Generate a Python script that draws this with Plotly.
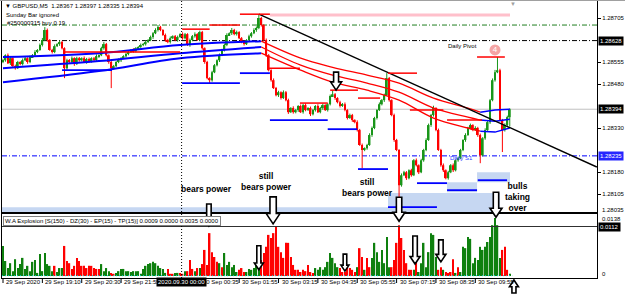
import plotly.graph_objects as go

# ---------------- data ----------------
BASE = 1.28
PT = 0.00001

time_labels = ["29 Sep 2020", "29 Sep 19:10", "29 Sep 20:30", "29 Sep 21:55", "30 Sep 00:35",
               "30 Sep 01:55", "30 Sep 03:15", "30 Sep 04:35", "30 Sep 05:55", "30 Sep 07:15",
               "30 Sep 08:35", "30 Sep 09:55"]
time_label_bars = [0, 16, 32, 48, 80, 96, 112, 128, 144, 160, 176, 192]
separator_bar = 72.6
separator_label = "2020.09.30 00:00"

# M5 candles, closes in points above 1.28000
close_pts = [
    561, 578, 551, 568, 541, 534, 555, 548, 561, 568,
    555, 572, 578, 589, 596, 613, 630, 664, 630, 596,
    589, 609, 616, 623, 602, 534, 561, 555, 568, 548,
    568, 561, 568, 555, 565, 558, 568, 561, 575, 578,
    602, 616, 578, 555, 534, 541, 555, 561, 568, 575,
    582, 589, 596, 592, 602, 606, 613, 616, 623, 630,
    640, 653, 664, 674, 664, 647, 630, 623, 636, 643,
    630, 640, 650, 636, 650, 613, 630, 643, 650, 630,
    657, 602, 555, 500, 493, 520, 544, 561, 578, 596,
    613, 647, 653, 664, 650, 657, 636, 623, 616, 630,
    643, 653, 664, 671, 705, 681, 630, 578, 527, 493,
    466, 442, 452, 432, 452, 425, 384, 398, 384, 391,
    405, 384, 408, 391, 398, 377, 391, 405, 384, 398,
    408, 391, 411, 439, 445, 432, 418, 405, 411, 391,
    364, 374, 357, 350, 323, 272, 255, 261, 272, 306,
    330, 364, 391, 411, 425, 442, 500, 425, 374, 289,
    255, 135, 169, 179, 159, 186, 169, 220, 203, 179,
    220, 255, 289, 340, 374, 398, 323, 255, 203, 186,
    159, 179, 203, 186, 220, 227, 255, 289, 306, 330,
    340, 323, 330, 306, 237, 295, 323, 350, 425, 493,
    520, 527, 357, 323, 340, 367, 394,
]
first_open_pts = 555
up_wick_pts = [
    5, 3, 6, 4, 3, 5, 4, 3, 6, 4, 3, 5, 4, 6, 3, 5, 7, 10, 5, 3,
    4, 6, 3, 5, 4, 3, 5, 4, 6, 3, 5, 4, 3, 6, 4, 5, 3, 4, 6, 3,
    5, 7, 4, 3, 5, 4, 3, 6, 4, 3, 5, 4, 3, 6, 4, 3, 5, 4, 6, 3,
    5, 4, 6, 7, 4, 3, 5, 4, 6, 3, 4, 5, 3, 6, 4, 3, 5, 4, 6, 3,
    5, 4, 3, 4, 3, 5, 4, 3, 6, 4, 5, 6, 3, 7, 4, 5, 3, 4, 6, 3,
    5, 4, 6, 5, 13, 4, 3, 5, 4, 3, 6, 4, 5, 3, 6, 4, 5, 3, 6, 4,
    3, 5, 4, 6, 3, 5, 4, 3, 6, 4, 5, 3, 4, 5, 14, 4, 3, 5, 4, 6,
    3, 5, 4, 3, 6, 4, 5, 3, 4, 6, 5, 4, 3, 6, 4, 5, 17, 4, 3, 5,
    4, 3, 6, 5, 4, 3, 5, 4, 6, 3, 5, 4, 6, 5, 4, 8, 3, 5, 4, 6,
    3, 5, 4, 6, 3, 5, 4, 3, 6, 4, 5, 3, 6, 4, 5, 4, 6, 5, 4, 6,
    8, 45, 5, 4, 6, 5, 3,
]
dn_wick_pts = [
    4, 5, 3, 6, 4, 5, 3, 4, 5, 3, 6, 4, 3, 5, 4, 3, 5, 4, 6, 3,
    5, 4, 3, 6, 4, 34, 5, 3, 4, 6, 3, 5, 4, 3, 6, 4, 5, 3, 4, 6,
    3, 5, 4, 6, 68, 5, 3, 4, 6, 3, 5, 4, 3, 5, 4, 6, 3, 4, 5, 3,
    4, 6, 3, 5, 4, 3, 6, 4, 5, 3, 4, 6, 3, 5, 4, 3, 6, 4, 5, 3,
    4, 5, 6, 4, 13, 5, 3, 4, 6, 3, 5, 4, 3, 6, 4, 5, 3, 4, 5, 3,
    4, 5, 3, 6, 4, 5, 3, 6, 4, 5, 3, 4, 6, 5, 3, 4, 6, 3, 5, 4,
    6, 3, 5, 4, 3, 6, 4, 5, 3, 4, 6, 3, 5, 4, 3, 6, 4, 5, 3, 4,
    5, 3, 6, 4, 5, 3, 62, 4, 5, 3, 6, 4, 5, 3, 4, 6, 3, 5, 4, 6,
    4, 51, 5, 3, 6, 4, 5, 3, 4, 6, 3, 5, 4, 3, 6, 5, 4, 3, 5, 6,
    4, 5, 3, 6, 4, 5, 3, 4, 6, 3, 5, 4, 3, 6, 27, 4, 5, 3, 6, 4,
    5, 3, 4, 75, 5, 4, 32,
]

# W.A Explosion histogram, values x 1e-4, colour by direction
wa_values = [
    68, 34, 18, 29, 11, 38, 18, 27, 41, 16,
    23, 11, 32, 36, 7, 50, 11, 52, 27, 23,
    11, 23, 9, 18, 18, 68, 34, 29, 16, 23,
    41, 34, 23, 23, 18, 23, 23, 18, 16, 16,
    27, 11, 18, 11, 7, 5, 7, 11, 16, 16,
    11, 11, 9, 11, 11, 11, 5, 16, 23, 27,
    29, 32, 29, 23, 18, 16, 7, 16, 5, 5,
    7, 7, 7, 5, 11, 11, 36, 16, 11, 18,
    18, 27, 59, 25, 97, 54, 43, 32, 29, 20,
    52, 25, 32, 20, 25, 9, 14, 18, 9, 9,
    16, 14, 18, 25, 36, 36, 52, 66, 93, 86,
    97, 111, 66, 54, 41, 75, 75, 43, 25, 14,
    14, 9, 14, 11, 25, 9, 7, 18, 14, 20,
    14, 20, 32, 52, 41, 29, 20, 18, 9, 9,
    20, 18, 14, 9, 20, 63, 43, 14, 41, 20,
    41, 75, 54, 32, 59, 29, 88, 20, 20, 36,
    75, 115, 86, 59, 29, 14, 14, 14, 32, 9,
    29, 75, 20, 54, 97, 93, 43, 14, 20, 14,
    9, 7, 9, 38, 7, 20, 9, 66, 63, 88,
    84, 29, 41, 36, 66, 59, 66, 77, 88, 115,
    131, 115, 41, 59, 66, 14, 5,
]
wa_dir = ("GGGGGGGGGG" "GGGGGGGGGG" "GRGGGRRRRR" "RRRRRRRRRR" "GGGGRRGGGG"
          "GGGGGGGGGG" "GGGGGGGRRR" "GGRRGRRRGR" "GRRRRRRRGR" "GGGGGGRRRG"
          "GGGGGRRRRR" "RRRRRRRRRR" "RRRRRRRGGG" "GGGGGGGRRR" "RRRRGRRGRR"
          "GGGGGGGGRR" "RRRRRRRGRG" "GGGGGGGRRG" "RRRRGRGGGG" "GGGGGGGGGG"
          "GGGRRRG")
wa_level = 0.0112

# moving-average bands (bar index, points)
ma_left_bars = [0, 39, 72, 105]
ma_left_top = [572, 585, 613, 626]
ma_left_mid = [534, 558, 585, 606]
ma_left_bot = [486, 524, 568, 585]
ma_red_bars = [105, 121, 134, 148, 161, 175, 189, 194]
ma_red_top = [626, 568, 537, 510, 483, 432, 398, 384]
ma_red_mid = [606, 544, 510, 483, 452, 398, 367, 357]
ma_red_bot = [585, 527, 486, 459, 425, 364, 330, 319]
ma_right_bars = [194, 200, 206]
ma_right_top = [384, 391, 394]
ma_right_mid = [357, 353, 360]
ma_right_bot = [319, 316, 330]

# trend line (bar, points)
trend_bars = [104, 241.4]
trend_pts = [718, 197]

# supply / demand segments (bar from, bar to, points)
res_segments = [(96.3, 108.5, 718), (84, 96.3, 681), (72.8, 84, 667), (24.4, 72, 589),
                (107.7, 120.7, 534), (120.7, 132, 415), (133, 144.3, 459), (144.3, 153.3, 432),
                (156.5, 168.3, 517), (165.4, 179, 391), (180.5, 194.7, 357), (192.7, 204, 572)]
sup_segments = [(24, 44.3, 527), (72.8, 96.3, 483), (96.3, 108.5, 517), (108.5, 132, 357),
                (132, 144, 326), (144.3, 156.5, 190), (156.5, 176.4, 60), (168.3, 180.5, 142),
                (180.5, 192.7, 118), (193, 204.9, 152)]
zones = [(-0.4, 161.4, 40, 60), (156.5, 202, 40, 108), (180.5, 192.7, 111, 145), (192.7, 206.1, 145, 179)]
pink_line = (108.5, 206.1, 715)

levels = {"r": 1.28681, "pivot": 1.28628, "bid": 1.28394, "s1": 1.28235}
price_ticks = [1.28705, 1.28555, 1.28480, 1.28330, 1.28180, 1.28105]

# ---------------- geometry ----------------
W, H = 625, 294
X0, X1 = 2, 597
XMIN, XMAX = -0.4065, 241.46
MT, MB = 1, 213
IT, IB = 213, 278
P_TOP, P_BOT = 1.2876295, 1.2804023
V_TOP, V_BOT = 0.014253, -0.000452
FONT = "Liberation Sans"


def px_x(b):
    return X0 + (b - XMIN) / (XMAX - XMIN) * (X1 - X0)


def py_main(p):
    return MT + (P_TOP - p) / (P_TOP - P_BOT) * (MB - MT)


def py_ind(v):
    return IT + (V_TOP - v) / (V_TOP - V_BOT) * (IB - IT)


def P(pts):
    return BASE + pts * PT


n = len(close_pts)
idx = list(range(n))
opens = [first_open_pts] + close_pts[:-1]
GREEN, RED = "#1a961a", "#ff0000"

fig = go.Figure()

# candle bodies
bases, heights, ccol = [], [], []
for o, c in zip(opens, close_pts):
    bases.append(P(min(o, c)))
    heights.append(abs(c - o) * PT)
    ccol.append(GREEN if c >= o else RED)

# wicks
wx = {GREEN: [], RED: []}
wy = {GREEN: [], RED: []}
for i, (o, c, u, d) in enumerate(zip(opens, close_pts, up_wick_pts, dn_wick_pts)):
    col = GREEN if c >= o else RED
    wx[col] += [i, i, None]
    wy[col] += [P(min(o, c) - d), P(max(o, c) + u), None]
for col in (GREEN, RED):
    fig.add_trace(go.Scatter(x=wx[col], y=wy[col], mode="lines", line=dict(color=col, width=1),
                             hoverinfo="skip", xaxis="x", yaxis="y"))
fig.add_trace(go.Bar(x=idx, y=heights, base=bases, width=0.72,
                     marker=dict(color=ccol, line=dict(width=0)), xaxis="x", yaxis="y"))

# MA bands
for bars, arrs, col, wd, shp in [(ma_left_bars, (ma_left_top, ma_left_mid, ma_left_bot), "#0000ff", 2, "spline"),
                                 (ma_red_bars, (ma_red_top, ma_red_mid, ma_red_bot), "#ff0000", 1.3, "spline"),
                                 (ma_right_bars, (ma_right_top, ma_right_mid, ma_right_bot), "#0000ff", 1.5, "linear")]:
    for a in arrs:
        fig.add_trace(go.Scatter(x=bars, y=[P(v) for v in a], mode="lines",
                                 line=dict(color=col, width=wd, shape=shp),
                                 hoverinfo="skip", xaxis="x", yaxis="y"))

# trend line
fig.add_trace(go.Scatter(x=trend_bars, y=[P(v) for v in trend_pts], mode="lines",
                         line=dict(color="black", width=1.4), xaxis="x", yaxis="y"))

# circled 4
fig.add_trace(go.Scatter(x=[200], y=[P(596)], mode="markers+text", text=["4"],
                         textfont=dict(color="white", size=8, family=FONT),
                         marker=dict(size=11, color="#f4a4a4"), xaxis="x", yaxis="y"))

# indicator histogram
wcol = ["#0e800e" if d == "G" else "#ff0000" for d in wa_dir]
fig.add_trace(go.Bar(x=idx, y=[v * 1e-4 for v in wa_values], width=0.62,
                     marker=dict(color=wcol, line=dict(width=0)), xaxis="x2", yaxis="y2"))
fig.add_trace(go.Scatter(x=[XMIN, n], y=[0.00008, 0.00008], mode="lines",
                         line=dict(color="#00cccc", width=1, dash="1px,2px"), xaxis="x2", yaxis="y2"))

shapes = []
# demand zones
for b0, b1, lo, hi in zones:
    shapes.append(dict(type="rect", xref="x", yref="y", x0=b0, x1=b1, y0=P(lo), y1=P(hi),
                       fillcolor="#c6d7f2", line=dict(width=0), layer="below"))
# horizontal levels
DD = "5px,2px,1px,2px"
shapes.append(dict(type="line", xref="x", yref="y", x0=XMIN, x1=XMAX, y0=levels["bid"], y1=levels["bid"],
                   line=dict(color="#c0c0c0", width=1), layer="below"))
for key, col in [("r", "#1f7f1f"), ("pivot", "black"), ("s1", "#0000ff")]:
    shapes.append(dict(type="line", xref="x", yref="y", x0=XMIN, x1=XMAX, y0=levels[key], y1=levels[key],
                       line=dict(color=col, width=1, dash=DD), layer="below"))
shapes.append(dict(type="line", xref="x", yref="y", x0=pink_line[0], x1=pink_line[1],
                   y0=P(pink_line[2]), y1=P(pink_line[2]), line=dict(color="#ffc0cb", width=3)))
for b0, b1, v in res_segments:
    shapes.append(dict(type="line", xref="x", yref="y", x0=b0, x1=b1, y0=P(v), y1=P(v),
                       line=dict(color="#ff0000", width=1.5)))
for b0, b1, v in sup_segments:
    shapes.append(dict(type="line", xref="x", yref="y", x0=b0, x1=b1, y0=P(v), y1=P(v),
                       line=dict(color="#0000ff", width=1.8)))
# indicator level
shapes.append(dict(type="line", xref="x2", yref="y2", x0=XMIN, x1=XMAX, y0=wa_level, y1=wa_level,
                   line=dict(color="#303030", width=1)))
# period separator
sx = px_x(separator_bar) / W
shapes.append(dict(type="line", xref="paper", yref="paper", x0=sx, x1=sx, y0=1 - IB / H, y1=1 - MT / H,
                   line=dict(color="black", width=1, dash="1px,2px")))
# time ticks
for b in time_label_bars:
    tx = px_x(b) / W
    shapes.append(dict(type="line", xref="paper", yref="paper", x0=tx, x1=tx, y0=1 - 283 / H, y1=1 - IB / H,
                       line=dict(color="black", width=1)))
# top window border
shapes.append(dict(type="line", xref="paper", yref="paper", x0=0, x1=1, y0=1 - 0.5 / H, y1=1 - 0.5 / H,
                   line=dict(color="#a0a0a0", width=1)))


# hollow arrows
def arrow(tx, ty, length, w, up=False):
    sw, hh = w * 0.45, w * 0.75
    s = -1 if up else 1
    ytail, yneck = ty - s * length, ty - s * hh
    pts = [(tx - sw / 2, ytail), (tx + sw / 2, ytail), (tx + sw / 2, yneck), (tx + w / 2, yneck),
           (tx, ty), (tx - w / 2, yneck), (tx - sw / 2, yneck)]
    path = "M " + " L ".join(f"{x / W:.5f},{1 - y / H:.5f}" for x, y in pts) + " Z"
    return dict(type="path", xref="paper", yref="paper", path=path, fillcolor="white",
                line=dict(color="black", width=1.6))


arrows = [(83.7, "ind", 0.0113, 22, 10, False), (109.8, "ind", 0.0118, 27, 14, False),
          (161.0, "ind", 0.0124, 24, 12, False), (200.4, "ind", 0.0133, 25, 12, False),
          (135.4, "main", 1.28459, 18, 11, False), (104.0, "ind", 0.0014, 24, 9, False),
          (139.0, "ind", 0.0011, 17, 8, False), (167.5, "ind", 0.0027, 28, 10, False),
          (178.0, "ind", 0.0032, 22, 10, False), (207.7, "ind", -0.0009, 13, 9, True)]
for b, panel, v, ln, w, up in arrows:
    ty = py_main(v) if panel == "main" else py_ind(v)
    shapes.append(arrow(px_x(b), ty, ln, w, up))

ann = []


def txt(x, y, s, size=6, color="black", xanchor="left", xref="paper", yref="paper", **kw):
    ann.append(dict(x=x, y=y, text=s, xref=xref, yref=yref, xanchor=xanchor, yanchor="middle",
                    showarrow=False, font=dict(size=size, color=color, family=FONT), **kw))


txt(3 / W, 1 - 6 / H, "▼ GBPUSD,M5  1.28367 1.28397 1.28335 1.28394")
txt(4 / W, 1 - 15 / H, "Sunday Bar ignored")
txt(5 / W, 1 - 23 / H, "#250000315 buy 0.19")
txt(513 / W, 1 - 4 / H, "▼", size=6, color="#a0a0a0", xanchor="center")
txt(186.6, 1.28609, "Daily Pivot", xanchor="center", xref="x", yref="y")
txt(186.2, 1.28227, "Daily S1", color="#2a3cff", xanchor="center", xref="x", yref="y")
for b, p, s in [(82.9, 1.28122, "bears power"), (107.3, 1.28149, "still<br>bears power"),
                (148.0, 1.28127, "still<br>bears power"), (209.0, 1.28094, "bulls<br>taking<br>over")]:
    txt(b, p, "<b>" + s + "</b>", size=8.5, xanchor="center", xref="x", yref="y")

# indicator caption
txt(3 / W, 1 - 221 / H, "W.A Explosion [S(150) - DZ(30) - EP(15) - TP(15)] 0.0009 0.0000 0.0035 0.0000",
    bgcolor="white", bordercolor="#808080", borderwidth=1, borderpad=1)
# indicator axis labels
txt(600 / W, 1 - 219 / H, "0.0138")
txt(600 / W, 1 - 274 / H, "0")
txt(598 / W, wa_level, "0.0112", color="white", yref="y2", bgcolor="black", borderpad=1)
# price boxes
txt(598 / W, levels["pivot"], "1.28628", color="white", yref="y", bgcolor="black", borderpad=1)
txt(598 / W, levels["bid"], "1.28394", color="white", yref="y", bgcolor="black", borderpad=1)
txt(598 / W, levels["s1"], "1.28235", color="white", yref="y", bgcolor="#2626ff", borderpad=1)
txt(600 / W, 1 - 210 / H, "1.28035")
# time labels
for b, s in zip(time_label_bars, time_labels):
    txt(px_x(b) / W + 1 / W, 1 - 282 / H, s)
txt(sx, 1 - 282 / H, separator_label, color="white", xanchor="center", bgcolor="black", borderpad=1)

axis_common = dict(showgrid=False, zeroline=False, showline=True, mirror=True, linecolor="black",
                   linewidth=1, fixedrange=True, automargin=False)
fig.update_layout(
    width=W, height=H, margin=dict(l=0, r=0, t=0, b=0), template="none",
    paper_bgcolor="white", plot_bgcolor="white", showlegend=False, barmode="overlay",
    font=dict(family=FONT, size=6, color="black"),
    xaxis=dict(domain=[X0 / W, X1 / W], range=[XMIN, XMAX], showticklabels=False, ticks="",
               anchor="y", **axis_common),
    yaxis=dict(domain=[1 - MB / H, 1 - MT / H], range=[P_BOT, P_TOP], side="right", anchor="x",
               tickvals=price_ticks, ticktext=[f"{v:.5f}" for v in price_ticks], ticks="outside",
               ticklen=3, tickcolor="black", tickfont=dict(size=6, family=FONT), **axis_common),
    xaxis2=dict(domain=[X0 / W, X1 / W], range=[XMIN, XMAX], showticklabels=False, ticks="",
                anchor="y2", **axis_common),
    yaxis2=dict(domain=[1 - IB / H, 1 - IT / H], range=[V_BOT, V_TOP], side="right", anchor="x2",
                showticklabels=False, ticks="", **axis_common),
    shapes=shapes, annotations=ann,
)

fig.write_html("out.html")
